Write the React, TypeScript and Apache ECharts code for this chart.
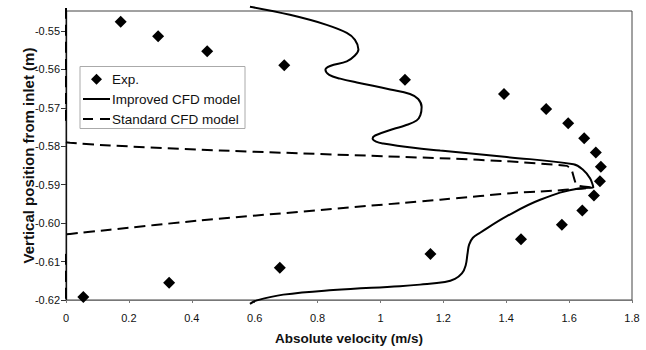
import React, { useEffect, useRef } from "react";
import * as echarts from "echarts";

// Experimental data (absolute velocity, m/s ; vertical position, m)
const expVelocity = [0.174, 0.293, 0.449, 0.694, 1.078, 1.393, 1.527, 1.597, 1.648, 1.685, 1.701, 1.698, 1.679, 1.642, 1.577, 1.447, 1.159, 0.68, 0.328, 0.055];
const expPosition = [-0.5476, -0.5514, -0.5553, -0.5589, -0.5627, -0.5664, -0.5703, -0.574, -0.5779, -0.5816, -0.5853, -0.5891, -0.5928, -0.5967, -0.6004, -0.6042, -0.608, -0.6116, -0.6155, -0.6192];

// Improved CFD model profile
const improvedVelocity = [0.585, 0.712, 0.829, 0.893, 0.919, 0.93, 0.917, 0.893, 0.84, 0.825, 0.837, 0.872, 0.925, 1.031, 1.094, 1.12, 1.131, 1.127, 1.115, 1.078, 1.041, 0.983, 0.975, 0.986, 1.009, 1.105, 1.19, 1.402, 1.614, 1.645, 1.667, 1.677, 1.635, 1.508, 1.402, 1.317, 1.294, 1.282, 1.277, 1.271, 1.259, 1.237, 1.205, 1.126, 1.062, 0.85, 0.691, 0.607, 0.585];
const improvedPosition = [-0.5437, -0.5458, -0.5484, -0.5505, -0.5523, -0.5548, -0.5565, -0.5579, -0.5591, -0.5601, -0.5614, -0.5624, -0.5634, -0.5652, -0.5664, -0.5677, -0.5698, -0.5719, -0.5733, -0.5746, -0.5755, -0.5772, -0.578, -0.5788, -0.5793, -0.5804, -0.5811, -0.5828, -0.5847, -0.5862, -0.5884, -0.5907, -0.5909, -0.5939, -0.5982, -0.6025, -0.6038, -0.6056, -0.6079, -0.611, -0.6131, -0.6145, -0.6153, -0.616, -0.6164, -0.6174, -0.6186, -0.6201, -0.621];

// Standard CFD model profile
const standardVelocity = [0, 0, -0.009, -0.011, -0.003, 0.013, 0.14, 0.49, 1.221, 1.402, 1.593, 1.608, 1.624, 1.67, 1.508, 1.444, 1.19, 1.062, 0.426, 0.14, 0.013, -0.009, -0.011, -0.003, 0];
const standardPosition = [-0.544, -0.5724, -0.5746, -0.5772, -0.5789, -0.5791, -0.5798, -0.5811, -0.5832, -0.5839, -0.5851, -0.5862, -0.5901, -0.5907, -0.5918, -0.592, -0.5939, -0.5948, -0.5993, -0.6017, -0.6028, -0.6031, -0.606, -0.6081, -0.6201];

const seriesNames = ["Exp.", "Improved CFD model", "Standard CFD model"];
const xAxisTitle = "Absolute velocity (m/s)";
const yAxisTitle = "Vertical position from inlet (m)";

const FONT = "'Liberation Sans', Arial, sans-serif";
const DASH = [11, 6];

const pairs = (xs: number[], ys: number[]) => xs.map((x, i) => [x, ys[i]]);

function legendGraphic() {
  const left = 80;
  const top = 66.5;
  const rowY = [79.3, 99, 119];
  const iconL = 83;
  const iconR = 110;
  const textX = 112;
  const d = 5.5;
  const cx = 96.5;
  const els: any[] = [
    {
      type: "rect",
      shape: { x: left, y: top, width: 165, height: 62 },
      style: { fill: "#fff", stroke: "#aaa", lineWidth: 1 },
      z: 100,
    },
    {
      type: "polygon",
      shape: { points: [[cx, rowY[0] - d], [cx + d, rowY[0]], [cx, rowY[0] + d], [cx - d, rowY[0]]] },
      style: { fill: "#000" },
      z: 101,
    },
    {
      type: "line",
      shape: { x1: iconL, y1: rowY[1], x2: iconR, y2: rowY[1] },
      style: { stroke: "#000", lineWidth: 2 },
      z: 101,
    },
    {
      type: "line",
      shape: { x1: iconL, y1: rowY[2], x2: iconR, y2: rowY[2] },
      style: { stroke: "#000", lineWidth: 2, lineDash: [10, 7] },
      z: 101,
    },
  ];
  seriesNames.forEach((name, i) => {
    els.push({
      type: "text",
      x: textX,
      y: rowY[i],
      style: {
        text: name,
        fontFamily: FONT,
        fontSize: 13.5,
        fill: "#111",
        verticalAlign: "middle",
        align: "left",
      },
      z: 101,
    });
  });
  return els;
}

export default function App() {
  const ref = useRef<HTMLDivElement>(null);

  useEffect(() => {
    if (!ref.current) return;
    const chart = echarts.init(ref.current, null, { renderer: "svg" });
    chart.setOption({
      animation: false,
      backgroundColor: "#ffffff",
      textStyle: { fontFamily: FONT },
      grid: {
        left: 66,
        right: 14,
        top: 11,
        bottom: 47,
        show: true,
        borderColor: "#444",
        borderWidth: 1,
        backgroundColor: "transparent",
      },
      xAxis: {
        type: "value",
        min: 0,
        max: 1.8,
        interval: 0.2,
        name: xAxisTitle,
        nameLocation: "middle",
        nameGap: 31,
        nameMoveOverlap: false,
        nameTextStyle: { fontFamily: FONT, fontSize: 13.5, fontWeight: "bold", color: "#111" },
        axisLine: { show: true, onZero: false, lineStyle: { color: "#777", width: 1 } },
        axisTick: { show: true, length: 3, lineStyle: { color: "#777" } },
        axisLabel: {
          fontFamily: FONT,
          fontSize: 11,
          color: "#111",
          margin: 12,
          formatter: (v: number) => (Math.abs(v) < 1e-9 ? "0" : String(+v.toFixed(1))),
        },
        splitLine: { show: false },
      },
      yAxis: {
        type: "value",
        min: -0.62,
        max: -0.5448,
        interval: 0.01,
        name: yAxisTitle,
        nameLocation: "middle",
        nameGap: 30,
        nameRotate: 90,
        nameMoveOverlap: false,
        nameTextStyle: { fontFamily: FONT, fontSize: 15, fontWeight: "bold", color: "#111" },
        axisLine: { show: true, onZero: false, lineStyle: { color: "#111", width: 1.3 } },
        axisTick: { show: true, length: 5, lineStyle: { color: "#333" } },
        axisLabel: {
          fontFamily: FONT,
          fontSize: 11,
          color: "#111",
          margin: 6,
          showMaxLabel: false,
          formatter: (v: number) => v.toFixed(2),
        },
        splitLine: { show: false },
      },
      graphic: legendGraphic(),
      series: [
        {
          name: seriesNames[0],
          type: "scatter",
          symbol: "diamond",
          symbolSize: 12,
          itemStyle: { color: "#000", opacity: 1 },
          data: pairs(expVelocity, expPosition),
          z: 5,
        },
        {
          name: seriesNames[1],
          type: "line",
          symbol: "none",
          smooth: 0.4,
          clip: false,
          lineStyle: { color: "#000", width: 2, type: "solid" },
          itemStyle: { color: "#000" },
          data: pairs(improvedVelocity, improvedPosition),
          z: 4,
        },
        {
          name: seriesNames[2],
          type: "line",
          symbol: "none",
          smooth: 0.15,
          clip: false,
          lineStyle: { color: "#000", width: 2, type: DASH },
          itemStyle: { color: "#000" },
          data: pairs(standardVelocity, standardPosition),
          z: 3,
        },
      ],
    });
    return () => chart.dispose();
  }, []);

  return (
    <div
      ref={ref}
      style={{ position: "fixed", left: 0, top: 0, width: 646, height: 350, background: "#fff" }}
    />
  );
}
